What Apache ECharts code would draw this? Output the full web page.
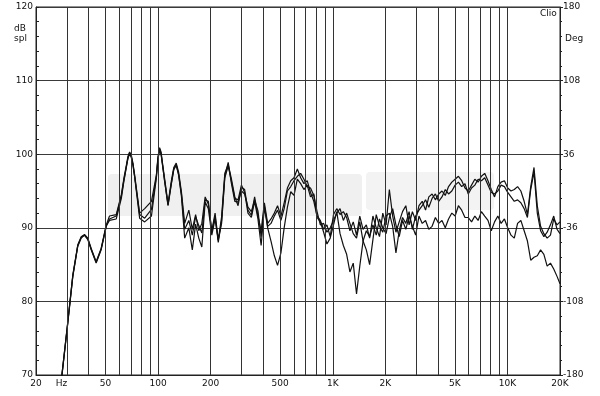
<!DOCTYPE html>
<html>
<head>
<meta charset="utf-8">
<script src="https://cdn.jsdelivr.net/npm/echarts@6/dist/echarts.min.js"></script>
<style>
  html, body { margin: 0; padding: 0; background: #fff; }
  #chart { width: 600px; height: 396px; }
</style>
</head>
<body>
<div id="chart"></div>
<script>
// frequency points (Hz), shared by the three traces
const freqs = [
  28, 30.4, 32.5, 34.7, 36.3, 37.9, 39.6, 41.4, 44.2, 47.2,
  50.5, 52.7, 57.6, 61.6, 63.6, 65.8, 67.2, 68.7, 70.2, 71.8,
  73.4, 78.4, 83.8, 91.6, 97.8, 99.8, 102, 104, 106, 109,
  114, 119, 123, 127, 131, 136, 142,
  150, 157, 164, 171, 178, 186, 194, 203, 212, 221,
  231, 241, 252, 263, 275, 287, 300, 313, 327, 342,
  357, 373, 389, 406, 424, 443, 463, 483, 505, 527,
  550, 575, 600, 627, 655, 684, 714, 746, 779, 813,
  849, 887, 926, 967, 1010, 1054, 1101, 1150, 1201, 1254,
  1310, 1368, 1428, 1491, 1557, 1626, 1698, 1774, 1852, 1934,
  2020, 2109, 2203, 2300, 2402, 2509, 2620, 2736, 2857, 2983,
  3116, 3254, 3398, 3548, 3705, 3869, 4041, 4220, 4407, 4602,
  4806, 5018, 5241, 5473, 5715, 5968, 6233, 6509, 6797, 7098,
  7412, 7740, 8083, 8441, 8815, 9205, 9613, 10039, 10483, 10948,
  11433, 11939, 12468, 13020, 13596, 14199, 14827, 15484, 16170, 16886,
  17634, 18415, 19230, 20000
]

// dB spl, trace 1
const splA = [
  69.6, 77.2, 83.6, 87.7, 88.8, 89.1, 88.6, 87.2, 85.4, 87.2,
  90.4, 91.6, 91.8, 94.5, 96.6, 98.5, 99.7, 100.3, 99.9, 98.8,
  97.2, 92.0, 92.6, 93.6, 97.2, 99.6, 100.9, 100.3, 98.8, 96.7,
  93.3, 96.3, 98.2, 98.8, 97.6, 94.9, 90.6,
  92.4, 89.8, 91.8, 89.6, 90.6, 94.2, 93.2, 89.6, 92.0, 88.3,
  91.5, 97.4, 98.6, 96.6, 94.2, 93.0, 95.5, 95.2, 92.4, 91.7,
  94.2, 91.6, 89.6, 93.4, 90.6, 91.2, 92.0, 93.0, 91.6, 93.4,
  95.4, 96.4, 96.8, 98.0, 96.8, 96.0, 96.4, 94.8, 93.6, 91.6,
  91.0, 89.8, 90.4, 88.8, 91.8, 92.6, 91.8, 92.2, 91.4, 89.6,
  90.8, 89.0, 91.6, 89.8, 90.4, 88.6, 91.6, 90.0, 88.8, 92.0,
  90.4, 95.2, 91.6, 89.4, 90.8, 92.2, 93.0, 90.4, 92.2, 91.0,
  93.0, 93.6, 92.4, 94.2, 94.6, 93.8, 94.6, 95.0, 94.4, 95.6,
  96.2, 96.6, 97.0, 96.4, 95.4, 95.0, 95.8, 96.6, 96.2, 97.0,
  97.4, 96.4, 95.2, 94.2, 95.6, 96.2, 96.4, 95.4, 95.0, 95.2,
  95.6, 95.0, 93.6, 91.8, 95.6, 98.2, 93.0, 90.2, 89.2, 88.6,
  89.0, 91.2, 90.4, 90.8
]

// dB spl, trace 2
const splB = [
  69.4, 77.0, 83.4, 87.5, 88.6, 89.0, 88.4, 87.0, 85.2, 87.0,
  90.2, 91.2, 91.6, 94.3, 96.4, 98.3, 99.5, 100.2, 99.7, 98.6,
  97.0, 91.8, 91.3, 92.5, 97.0, 99.4, 100.7, 100.1, 98.6, 96.4,
  93.1, 96.0, 98.0, 98.6, 97.3, 94.6, 89.8,
  91.0, 89.0, 91.5, 90.3, 89.3, 93.8, 93.6, 89.4, 91.6, 88.0,
  91.0, 97.0, 98.9, 96.0, 93.6, 93.5, 95.0, 94.6, 92.8, 92.2,
  93.8, 92.3, 88.8, 93.0, 90.2, 90.6, 91.6, 92.4, 91.0, 92.6,
  95.0, 95.6, 96.4, 97.0, 97.4, 96.6, 95.6, 95.4, 94.4, 92.2,
  90.4, 90.6, 89.4, 90.0, 91.0, 92.0, 92.6, 91.0, 92.0, 90.6,
  89.2, 88.6, 90.8, 88.2, 87.0, 85.0, 88.4, 91.8, 90.2, 89.4,
  91.6, 92.0, 90.2, 86.6, 89.6, 91.4, 90.6, 92.2, 89.8, 91.6,
  92.4, 93.0, 93.8, 92.8, 94.0, 94.6, 93.6, 94.2, 95.2, 94.6,
  95.0, 95.8, 96.2, 95.6, 96.0, 94.6, 95.4, 95.8, 96.6, 96.4,
  96.8, 95.8, 94.8, 94.6, 95.0, 95.8, 95.6, 94.8, 94.2, 93.6,
  93.8, 93.4, 92.6, 91.4, 95.2, 97.6, 92.0, 89.6, 88.8, 89.4,
  90.4, 91.6, 89.8, 89.2
]

// dB spl, trace 3
const splC = [
  69.5, 77.1, 83.5, 87.6, 88.7, 89.0, 88.5, 87.1, 85.3, 87.1,
  90.3, 91.0, 91.2, 94.0, 96.2, 98.2, 99.4, 100.1, 99.6, 98.5,
  96.9, 91.3, 90.8, 91.6, 96.8, 99.3, 100.6, 100.0, 98.5, 96.3,
  93.0, 95.9, 97.9, 98.5, 97.2, 94.3, 88.6,
  90.0, 87.0, 90.5, 88.6, 87.4, 93.5, 92.6, 89.0, 91.2, 88.4,
  90.6, 96.8, 98.4, 96.3, 94.0, 93.8, 95.8, 94.8, 92.0, 91.4,
  93.6, 91.2, 87.6, 92.8, 90.0, 88.2, 86.2, 84.9, 86.6, 90.0,
  92.8, 94.9, 94.4, 96.6, 96.0, 95.2, 95.8, 94.2, 94.6, 91.4,
  90.8, 89.4, 87.8, 88.6, 90.4, 92.2, 89.2, 87.6, 86.4, 84.0,
  85.2, 81.0, 84.8, 88.2, 89.6, 88.8, 90.4, 89.0, 91.2, 90.0,
  89.2, 91.4, 92.6, 90.4, 88.8, 91.0, 89.8, 91.6, 90.2, 89.0,
  91.6, 90.6, 91.0, 89.8, 90.2, 91.4, 90.6, 91.0, 90.0, 91.2,
  92.0, 91.6, 93.0, 92.4, 91.4, 91.4, 90.8, 91.6, 91.0, 92.2,
  91.6, 91.0, 89.6, 90.8, 91.6, 90.6, 91.2, 90.0, 89.0, 88.6,
  90.6, 91.0, 89.6, 88.2, 85.6, 86.0, 86.2, 87.0, 86.4, 84.8,
  85.2, 84.4, 83.4, 82.4
]

// vertical log-paper grid lines
const gridFreqs = [
  30, 40, 50, 60, 70, 80, 90, 100,
  200, 300, 400, 500, 600, 700, 800, 900, 1000,
  2000, 3000, 4000, 5000, 6000, 7000, 8000, 9000, 10000
]

// frequency axis labels
const xLabelValues = [20, 28, 50, 100, 200, 500, 1000, 2000, 5000, 10000, 20000]
const xLabelTexts = ['20', 'Hz', '50', '100', '200', '500', '1K', '2K', '5K', '10K', '20K']

const font = 'DejaVu Sans'
const ink = '#111'

const chart = echarts.init(document.getElementById('chart'))

const traceSeries = (values) => ({
  type: 'line',
  data: freqs.map((f, i) => [f, values[i]]),
  yAxisIndex: 0,
  showSymbol: false,
  symbol: 'none',
  clip: true,
  z: 3,
  lineStyle: { color: '#111', width: 1.2 },
})

const option = {
  animation: false,
  grid: {
    left: 36,
    right: 40,
    top: 7,
    bottom: 21,
    show: true,
    borderColor: '#222',
    borderWidth: 1,
  },
  xAxis: {
    type: 'log',
    logBase: 10,
    min: 20,
    max: 20000,
    axisLine: { show: true, onZero: false, lineStyle: { color: '#222' } },
    axisTick: { show: false },
    splitLine: { show: false },
    axisLabel: {
      customValues: xLabelValues,
      formatter: (v) => xLabelTexts[xLabelValues.indexOf(v)] ?? '',
      fontFamily: font,
      fontSize: 9,
      color: ink,
      margin: 4,
    },
  },
  yAxis: [
    {
      type: 'value',
      min: 70,
      max: 120,
      interval: 10,
      position: 'left',
      axisLine: { show: true, lineStyle: { color: '#222' } },
      axisTick: { show: true, inside: true, length: 3, lineStyle: { color: '#222' } },
      minorTick: { show: true, splitNumber: 5, length: 3, lineStyle: { color: '#222' } },
      splitLine: { show: true, lineStyle: { color: '#3a3a3a', width: 1 } },
      axisLabel: { fontFamily: font, fontSize: 9, color: ink, margin: 3 },
    },
    {
      type: 'value',
      min: -180,
      max: 180,
      interval: 72,
      position: 'right',
      axisLine: { show: true, lineStyle: { color: '#222' } },
      axisTick: { show: true, inside: false, length: 3, lineStyle: { color: '#222' } },
      minorTick: { show: true, splitNumber: 5, length: 2, lineStyle: { color: '#222' } },
      splitLine: { show: false },
      axisLabel: { fontFamily: font, fontSize: 9, color: ink, margin: 3 },
    },
  ],
  graphic: [
    // faint watermark band behind the traces
    { type: 'rect', z: -10, shape: { x: 108, y: 174, width: 254, height: 42, r: 4 }, style: { fill: '#f0f0f0' } },
    { type: 'rect', z: -10, shape: { x: 366, y: 172, width: 128, height: 38, r: 4 }, style: { fill: '#f3f3f3' } },
    { type: 'text', left: 14, top: 24, style: { text: 'dB\nspl', font: '9px "DejaVu Sans"', fill: ink, lineHeight: 10 } },
    { type: 'text', left: 540, top: 9, style: { text: 'Clio', font: '9px "DejaVu Sans"', fill: ink } },
    { type: 'text', left: 565, top: 34, style: { text: 'Deg', font: '9px "DejaVu Sans"', fill: ink } },
  ],
  series: [
    {
      type: 'line',
      data: [],
      silent: true,
      z: 1,
      markLine: {
        silent: true,
        animation: false,
        symbol: ['none', 'none'],
        label: { show: false },
        emphasis: { disabled: true },
        lineStyle: { color: '#333', width: 1, type: 'solid' },
        data: gridFreqs.map((f) => ({ xAxis: f })),
      },
    },
    traceSeries(splA),
    traceSeries(splB),
    traceSeries(splC),
  ],
}

chart.setOption(option)
</script>
</body>
</html>
